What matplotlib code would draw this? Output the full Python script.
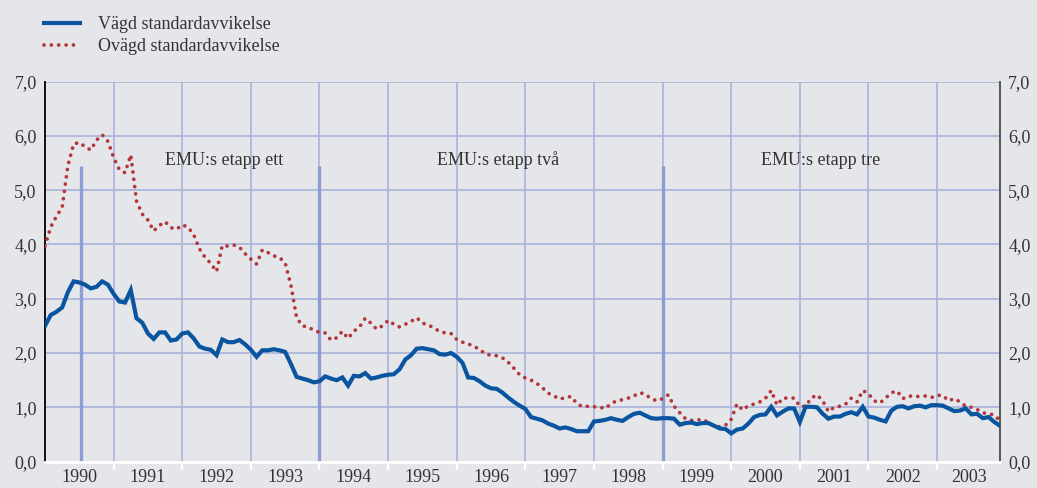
import matplotlib
matplotlib.use("Agg")
import matplotlib.pyplot as plt
import numpy as np
from matplotlib.ticker import FuncFormatter, FixedLocator

# monthly values, Jan 1990 - Dec 2003
vagd = [
    2.50, 2.70, 2.76, 2.84, 3.12, 3.32, 3.30, 3.26, 3.19, 3.22, 3.32, 3.26,
    3.09, 2.95, 2.93, 3.16, 2.64, 2.56, 2.36, 2.26, 2.38, 2.38, 2.23, 2.25,
    2.36, 2.38, 2.27, 2.12, 2.08, 2.06, 1.96, 2.25, 2.20, 2.20, 2.24, 2.16,
    2.06, 1.93, 2.05, 2.05, 2.07, 2.05, 2.02, 1.80, 1.56, 1.53, 1.50, 1.46,
    1.48, 1.57, 1.53, 1.50, 1.55, 1.40, 1.58, 1.57, 1.63, 1.53, 1.55, 1.58,
    1.60, 1.61, 1.70, 1.88, 1.96, 2.08, 2.09, 2.07, 2.05, 1.98, 1.97, 2.00,
    1.93, 1.82, 1.55, 1.54, 1.48, 1.40, 1.35, 1.34, 1.27, 1.18, 1.10, 1.03,
    0.97, 0.82, 0.79, 0.76, 0.70, 0.66, 0.61, 0.63, 0.60, 0.56, 0.56, 0.56,
    0.74, 0.75, 0.77, 0.80, 0.77, 0.75, 0.82, 0.88, 0.90, 0.85, 0.80, 0.79,
    0.80, 0.80, 0.79, 0.68, 0.71, 0.72, 0.69, 0.71, 0.71, 0.66, 0.61, 0.60,
    0.52, 0.59, 0.61, 0.70, 0.82, 0.86, 0.87, 1.01, 0.85, 0.92, 0.98, 0.98,
    0.73, 1.01, 1.01, 1.00, 0.88, 0.79, 0.83, 0.83, 0.88, 0.91, 0.87, 1.01,
    0.83, 0.81, 0.77, 0.74, 0.94, 1.01, 1.02, 0.98, 1.02, 1.03, 1.00, 1.04,
    1.04, 1.03, 0.98, 0.93, 0.94, 0.98, 0.87, 0.88, 0.80, 0.82, 0.73, 0.66,
]

ovagd = [
    3.97, 4.32, 4.52, 4.68, 5.45, 5.85, 5.88, 5.80, 5.74, 5.92, 6.02, 5.90,
    5.60, 5.38, 5.32, 5.65, 4.80, 4.56, 4.45, 4.25, 4.35, 4.42, 4.31, 4.28,
    4.36, 4.32, 4.18, 3.92, 3.76, 3.65, 3.50, 3.98, 3.97, 3.99, 3.95, 3.83,
    3.73, 3.64, 3.90, 3.85, 3.79, 3.76, 3.66, 3.25, 2.65, 2.50, 2.48, 2.42,
    2.38, 2.37, 2.24, 2.28, 2.40, 2.27, 2.40, 2.48, 2.64, 2.55, 2.44, 2.50,
    2.60, 2.53, 2.48, 2.53, 2.58, 2.65, 2.55, 2.52, 2.46, 2.40, 2.37, 2.36,
    2.25, 2.20, 2.17, 2.12, 2.07, 1.98, 1.96, 1.95, 1.91, 1.83, 1.72, 1.60,
    1.54, 1.50, 1.44, 1.36, 1.26, 1.21, 1.15, 1.18, 1.20, 1.07, 1.01, 1.02,
    1.01, 1.00, 0.98, 1.07, 1.12, 1.14, 1.17, 1.21, 1.27, 1.24, 1.16, 1.12,
    1.16, 1.23, 1.02, 0.90, 0.79, 0.76, 0.76, 0.78, 0.72, 0.66, 0.64, 0.67,
    0.78, 1.06, 0.95, 1.03, 1.06, 1.10, 1.17, 1.31, 1.04, 1.17, 1.17, 1.17,
    1.02, 1.02, 1.17, 1.23, 1.12, 0.92, 1.00, 1.02, 1.06, 1.17, 1.10, 1.31,
    1.25, 1.12, 1.08, 1.17, 1.27, 1.30, 1.16, 1.21, 1.20, 1.20, 1.21, 1.18,
    1.22, 1.22, 1.12, 1.16, 1.10, 1.02, 1.00, 0.96, 0.90, 0.88, 0.86, 0.75,
]

years = list(range(1990, 2004))
etapper = ["EMU:s etapp ett", "EMU:s etapp två", "EMU:s etapp tre"]
etapp_start = [1990.53, 1994.0, 1999.0]
etapp_label_x = [1992.61, 1996.60, 2001.31]
etapp_label_y = 5.55
etapp_bar_top = 5.45

BG = "#e5e6ea"
GRID = "#a8b2dc"
BAR = "#8e9cd3"
BLUE = "#0a55a0"
RED = "#b2363a"
TXT = "#333333"
FS = 13

plt.rcParams["font.family"] = ["Liberation Serif", "DejaVu Serif"]

fig = plt.figure(figsize=(10.37, 4.88), dpi=100, facecolor=BG)
ax = fig.add_axes([45 / 1037, 1 - 461.6 / 488, 955 / 1037, 380 / 488])
ax.set_facecolor(BG)

t = 1990 + np.arange(len(vagd)) / 12.0

# grid
for y in range(1, 8):
    ax.axhline(y, color=GRID, lw=1.2, zorder=1)
for yr in years[1:]:
    ax.axvline(yr, color=GRID, lw=1.2, zorder=1)

# EMU stage markers
for xs in etapp_start:
    ax.plot([xs, xs], [0, etapp_bar_top], color=BAR, lw=2.4, zorder=2,
            solid_capstyle="butt")
for lab, xl in zip(etapper, etapp_label_x):
    ax.text(xl, etapp_label_y, lab, ha="center", va="center",
            fontsize=FS, color=TXT, zorder=3)

ax.plot(t, ovagd, color=RED, lw=2.7, linestyle=(0, (0.01, 1.95)),
        dash_capstyle="round", label="Ovägd standardavvikelse", zorder=4)
ax.plot(t, vagd, color=BLUE, lw=3.0, label="Vägd standardavvikelse",
        zorder=5, solid_joinstyle="miter")

ax.set_xlim(1990, t[-1])
ax.set_ylim(0, 7)

# axes styling
ax.spines["top"].set_visible(False)
ax.spines["left"].set_color("#111111")
ax.spines["left"].set_linewidth(1.4)
ax.spines["right"].set_color("#555555")
ax.spines["right"].set_linewidth(1.4)
ax.spines["bottom"].set_color("white")
ax.spines["bottom"].set_linewidth(2.0)

ax.set_yticks(range(0, 8))
ax.yaxis.set_major_formatter(FuncFormatter(lambda v, p: f"{v:.1f}".replace(".", ",")))
ax.tick_params(axis="y", which="both", length=0, left=False, right=False,
               labelleft=True, labelright=True, labelsize=FS, labelcolor=TXT, pad=6)

ax.xaxis.set_major_locator(FixedLocator(years[1:]))
ax.xaxis.set_minor_locator(FixedLocator([y + 0.5 for y in years[:-1]] + [2003.46]))
ax.xaxis.set_major_formatter(FuncFormatter(lambda v, p: ""))
ax.xaxis.set_minor_formatter(FuncFormatter(lambda v, p: str(int(v))))
ax.tick_params(axis="x", which="major", length=6, width=1.6, color="white",
               direction="out")
ax.tick_params(axis="x", which="minor", length=0, labelsize=FS,
               labelcolor=TXT, pad=5)

h, l = ax.get_legend_handles_labels()
leg = fig.legend(h[::-1], l[::-1], loc="upper left",
                 bbox_to_anchor=(44 / 1037, 1 - 16 / 488),
                 frameon=False, fontsize=FS, borderpad=0, borderaxespad=0,
                 handlelength=2.0, handletextpad=1.0, labelspacing=0.3)
for txt in leg.get_texts():
    txt.set_color(TXT)

fig.savefig("out.png", dpi=100, facecolor=BG)
